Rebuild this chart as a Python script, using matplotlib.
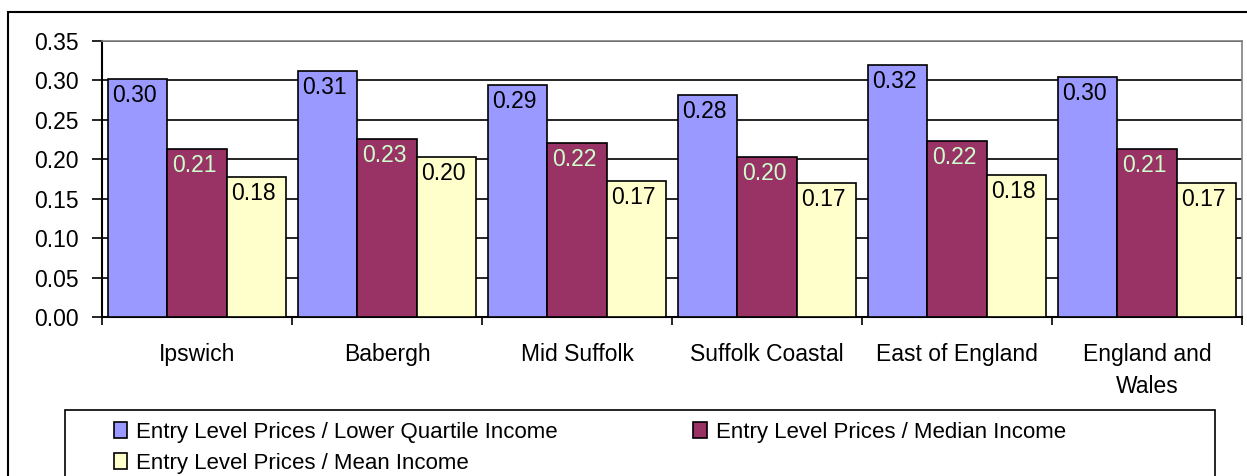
import numpy as np
import matplotlib.pyplot as plt
from matplotlib.patches import Rectangle

plt.rcParams['font.family'] = ['Liberation Sans', 'DejaVu Sans']

# data
areas = ["Ipswich", "Babergh", "Mid Suffolk", "Suffolk Coastal", "East of England", "England and\nWales"]
lower_quartile = [0.302, 0.312, 0.294, 0.281, 0.320, 0.304]
median = [0.213, 0.226, 0.221, 0.203, 0.223, 0.213]
mean = [0.177, 0.203, 0.172, 0.170, 0.180, 0.170]
series_names = ["Entry Level Prices / Lower Quartile Income",
                "Entry Level Prices / Median Income",
                "Entry Level Prices / Mean Income"]
colors = ["#9999FF", "#993366", "#FFFFCC"]
label_colors = ["black", "#CCFFCC", "black"]

W, H = 1247, 476
fig = plt.figure(figsize=(W / 100, H / 100), dpi=100)

# outer chart border (cut off at right and bottom like the original)
fig.patches.append(Rectangle((8 / W, -0.1), 1.2, (H - 12) / H + 0.1, transform=fig.transFigure,
                             fill=False, edgecolor="black", linewidth=1.5))

ax = fig.add_axes([102 / W, (H - 317) / H, (1242 - 102) / W, 276 / H])

x = np.arange(len(areas))
bw = 0.313
bars = []
for i, (vals, name) in enumerate(zip([lower_quartile, median, mean], series_names)):
    b = ax.bar(x + (i - 1) * bw, vals, bw, color=colors[i], edgecolor="black",
               linewidth=1.2, label=name, zorder=3)
    bars.append(b)
    for xi, v in zip(x + (i - 1) * bw, vals):
        ax.annotate(f"{v:.2f}", (xi, v), xytext=(-2, -3.5), textcoords="offset points",
                    ha="center", va="top", fontsize=16.5, color=label_colors[i], zorder=4)

ax.set_xlim(-0.5, len(areas) - 0.5)
ax.set_ylim(0, 0.35)
ax.set_yticks(np.arange(0, 0.351, 0.05))
ax.set_yticklabels([f"{t:.2f}" for t in np.arange(0, 0.351, 0.05)], fontsize=16.5)
ax.yaxis.grid(True, color="black", linewidth=1.2, zorder=0)
ax.set_axisbelow(True)

# category labels between group boundary ticks
ax.set_xticks(np.arange(-0.5, len(areas), 1.0))
ax.set_xticklabels([])
ax.set_xticks(x, minor=True)
ax.set_xticklabels(areas, minor=True, fontsize=16.5, linespacing=1.5)
ax.tick_params(axis="x", which="minor", length=0, pad=19)
ax.tick_params(axis="x", which="major", length=6, width=1.2, direction="out")
ax.tick_params(axis="y", length=7, width=1.2, direction="out", pad=10)

for s in ["top", "right"]:
    ax.spines[s].set_color("#808080")
    ax.spines[s].set_linewidth(1.2)
for s in ["left", "bottom"]:
    ax.spines[s].set_color("black")
    ax.spines[s].set_linewidth(1.5)

# legend box (runs off the bottom edge)
fig.patches.append(Rectangle((65 / W, -0.1), (1215 - 65) / W, (H - 410) / H + 0.1,
                             transform=fig.transFigure, fill=False, edgecolor="black", linewidth=1.2))
# row-major order: LQ, Median on first row, Mean on second
order = [0, 2, 1]
leg = fig.legend(handles=[bars[k] for k in order], labels=[series_names[k] for k in order],
                 loc="upper left", bbox_to_anchor=(114 / W, (H - 422) / H), ncol=2, frameon=False,
                 fontsize=16, handlelength=0.6, handleheight=0.7, handletextpad=0.4,
                 columnspacing=6.1, labelspacing=0.45, borderaxespad=0, borderpad=0)

fig.savefig("out.png", dpi=100)
